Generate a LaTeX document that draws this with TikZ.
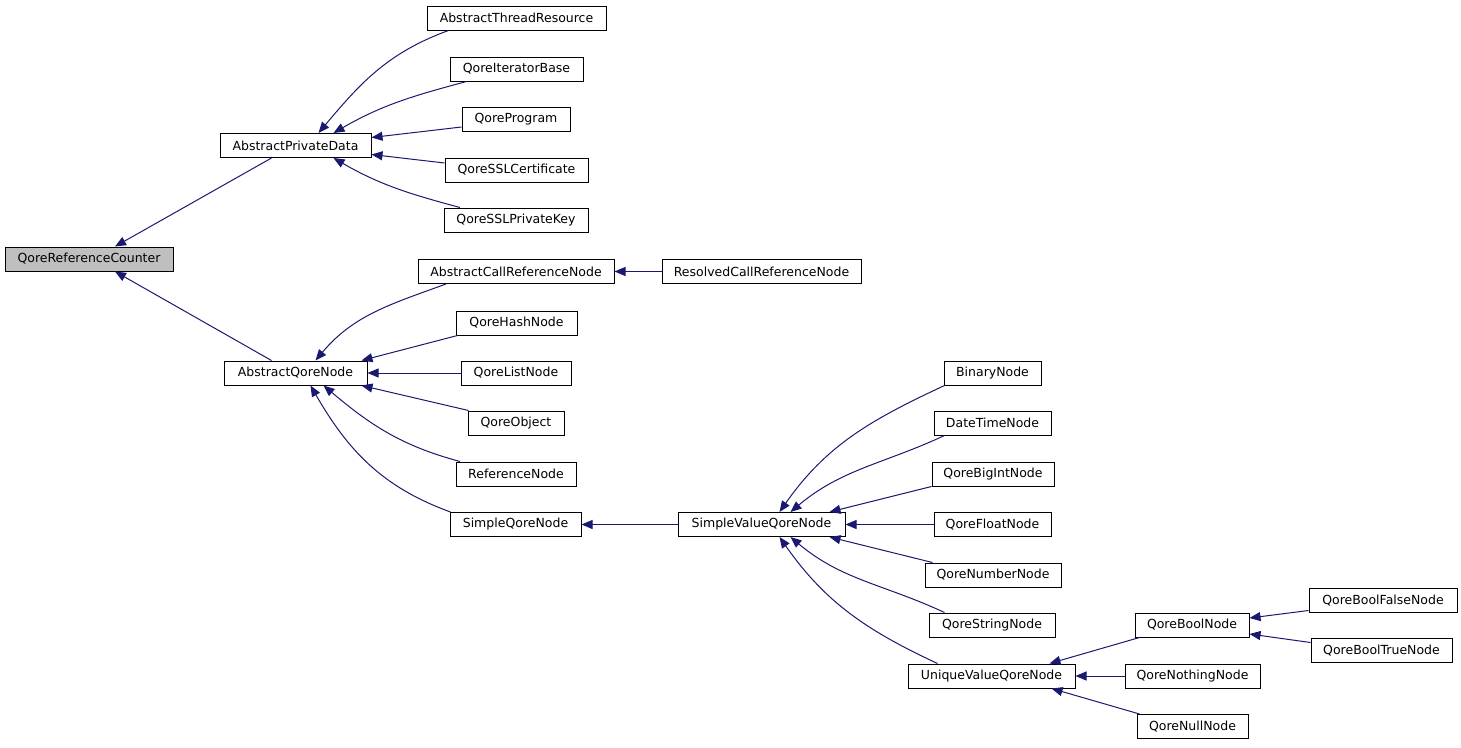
\documentclass[tikz,border=0pt]{standalone}
\usepackage{fontspec}
\setmainfont{DejaVu Sans}
\usetikzlibrary{arrows.meta}
\definecolor{edgeblue}{HTML}{191970}
\definecolor{rootgray}{HTML}{BFBFBF}
\tikzset{
  box/.style={draw=black, line width=1pt, inner sep=0pt, minimum height=24pt, anchor=center,
    font=\fontsize{12.5}{14}\selectfont},
  edge/.style={draw=edgeblue, line width=1pt, -{Triangle[length=11pt,width=9pt,fill=edgeblue]}}
}
\begin{document}
\begin{tikzpicture}[x=1pt,y=-1pt]
\useasboundingbox (0,0) rectangle (1461,747);
% nodes
\node[box, fill=rootgray, minimum width=168pt] (qrc) at (89,259) {QoreReferenceCounter};
\node[box, minimum width=151pt] (apd) at (295.5,145.5) {AbstractPrivateData};
\node[box, minimum width=179pt] (atr) at (516.5,18) {AbstractThreadResource};
\node[box, minimum width=133pt] (qib) at (516.5,69) {QoreIteratorBase};
\node[box, minimum width=108pt] (qp) at (516,119) {QoreProgram};
\node[box, minimum width=143pt] (qsc) at (516.5,170) {QoreSSLCertificate};
\node[box, minimum width=144pt] (qspk) at (516,220) {QoreSSLPrivateKey};
\node[box, minimum width=196pt] (acrn) at (516,271.5) {AbstractCallReferenceNode};
\node[box, minimum width=199pt] (rcrn) at (761.5,271.5) {ResolvedCallReferenceNode};
\node[box, minimum width=143pt] (aqn) at (295.5,373) {AbstractQoreNode};
\node[box, minimum width=121pt] (qhn) at (516.5,323) {QoreHashNode};
\node[box, minimum width=110pt] (qln) at (516,373) {QoreListNode};
\node[box, minimum width=96pt] (qo) at (516,423) {QoreObject};
\node[box, minimum width=120pt] (rn) at (516,474) {ReferenceNode};
\node[box, minimum width=131pt] (sqn) at (515.5,524.5) {SimpleQoreNode};
\node[box, minimum width=167pt] (svqn) at (761.5,524.5) {SimpleValueQoreNode};
\node[box, minimum width=97pt] (bn) at (992.5,373) {BinaryNode};
\node[box, minimum width=117pt] (dtn) at (992.5,423) {DateTimeNode};
\node[box, minimum width=122pt] (qbin) at (993,474) {QoreBigIntNode};
\node[box, minimum width=117pt] (qfn) at (992.5,524.5) {QoreFloatNode};
\node[box, minimum width=136pt] (qnn) at (993,575) {QoreNumberNode};
\node[box, minimum width=126pt] (qstn) at (992,625) {QoreStringNode};
\node[box, minimum width=167pt] (uvqn) at (991.5,676) {UniqueValueQoreNode};
\node[box, minimum width=114pt] (qbn) at (1192,625) {QoreBoolNode};
\node[box, minimum width=135pt] (qnothn) at (1192.5,676) {QoreNothingNode};
\node[box, minimum width=111pt] (qnulln) at (1192.5,726.5) {QoreNullNode};
\node[box, minimum width=148pt] (qbfn) at (1383,600.5) {QoreBoolFalseNode};
\node[box, minimum width=141pt] (qbtn) at (1381.5,650.5) {QoreBoolTrueNode};
% edges
\draw[edge] ([xshift=-24pt]apd.south) -- ([xshift=26pt]qrc.north);
\draw[edge] ([xshift=-24pt]aqn.north) -- ([xshift=26pt]qrc.south);
% AbstractPrivateData
\draw[edge] ([xshift=-68pt]atr.south) to[out=200,in=50] ([xshift=23pt]apd.north);
\draw[edge] ([xshift=-50pt]qib.south) to[out=195,in=30] ([xshift=38pt]apd.north);
\draw[edge] ([yshift=-8pt]qp.west) -- ([yshift=8pt]apd.east);
\draw[edge] ([yshift=7pt]qsc.west) -- ([yshift=-9pt]apd.east);
\draw[edge] ([xshift=-56pt]qspk.north) to[out=165,in=-30] ([xshift=38pt]apd.south);
% AbstractQoreNode
\draw[edge] ([xshift=-70pt]acrn.south) to[out=200,in=50] ([xshift=20pt]aqn.north);
\draw[edge] ([xshift=2pt]qhn.south west) -- ([xshift=-6pt]aqn.north east);
\draw[edge] (qln.west) -- (aqn.east);
\draw[edge] ([xshift=1pt]qo.north west) -- ([xshift=-6pt]aqn.south east);
\draw[edge] ([xshift=-56pt]rn.north) to[out=165,in=-40] ([xshift=28pt]aqn.south);
\draw[edge] ([xshift=1pt]sqn.north west) to[out=160,in=-60] ([xshift=15pt]aqn.south);
\draw[edge] (rcrn.west) -- (acrn.east);
\draw[edge] (svqn.west) -- (sqn.east);
% SimpleValueQoreNode
\draw[edge] ([xshift=1pt]bn.south west) to[out=205,in=55] ([xshift=18pt]svqn.north);
\draw[edge] ([xshift=11pt]dtn.south west) to[out=205,in=40] ([xshift=29pt]svqn.north);
\draw[edge] (qbin.south west) -- ([xshift=-16pt]svqn.north east);
\draw[edge] (qfn.west) -- (svqn.east);
\draw[edge] ([xshift=8pt]qnn.north west) -- ([xshift=-16pt]svqn.south east);
\draw[edge] ([xshift=16pt]qstn.north west) to[out=155,in=-40] ([xshift=29pt]svqn.south);
\draw[edge] ([xshift=30pt]uvqn.north west) to[out=155,in=-55] ([xshift=18pt]svqn.south);
% UniqueValueQoreNode
\draw[edge] ([xshift=5pt]qbn.south west) -- ([xshift=-26pt]uvqn.north east);
\draw[edge] (qnothn.west) -- (uvqn.east);
\draw[edge] ([xshift=3pt]qnulln.north west) -- ([xshift=-24pt]uvqn.south east);
% QoreBoolNode
\draw[edge] ([yshift=-10pt]qbfn.west) -- ([yshift=7pt]qbn.east);
\draw[edge] ([yshift=8pt]qbtn.west) -- ([yshift=-9pt]qbn.east);
\end{tikzpicture}
\end{document}
